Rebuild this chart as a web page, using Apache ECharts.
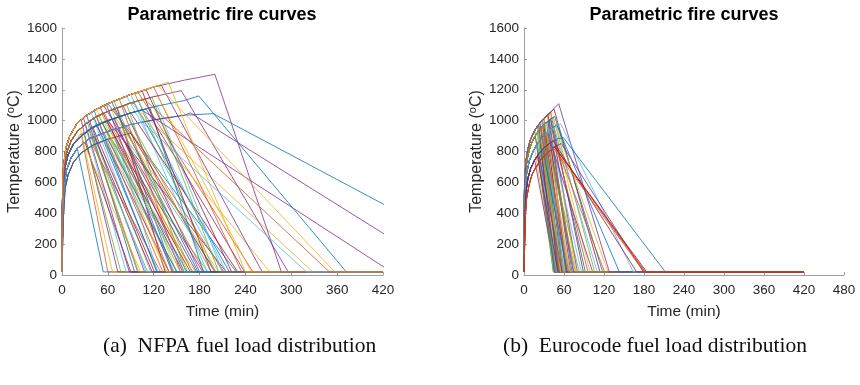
<!DOCTYPE html>
<html>
<head>
<meta charset="utf-8">
<script src="https://cdn.jsdelivr.net/npm/echarts@6.0.0/dist/echarts.min.js"></script>
<style>
  html, body { margin: 0; padding: 0; background: #fff; }
  #main { width: 860px; height: 385px; }
</style>
</head>
<body>
<div id="main"></div>
<script>
// ambient temperature and the time where every curve stops (min)
const ambient = 20;
const flatEnd = 420;

// x / y tick settings
const nfpaXMax = 420;
const euroXMax = 480;
const tempMax = 1600;

// heating branches [time, temp], fast -> slow
const nfpaHeating = [
  [[0,20],[0.5,450],[1,600],[2,700],[5,820],[10,900],[20,985],[30,1025],[45,1075],[60,1110],[90,1170],[120,1218],[160,1262],[200,1300]],
  [[0,20],[0.7,450],[1.5,600],[3,700],[6,790],[12,870],[20,930],[30,975],[45,1025],[60,1060],[90,1115],[120,1155],[160,1198],[200,1235]],
  [[0,20],[1,450],[2,600],[4,700],[8,780],[15,850],[25,900],[40,955],[60,1000],[90,1050],[120,1090],[160,1130],[200,1160]],
  [[0,20],[1.2,400],[3,580],[6,680],[12,760],[20,820],[35,880],[60,930],[90,975],[120,1005],[160,1035],[200,1055]],
  [[0,20],[1.5,350],[4,560],[8,650],[15,730],[25,790],[40,840],[60,880],[90,920],[120,950]]
];

// NFPA curves: [heating branch, peak time, peak temp, time back at ambient]
const nfpaCurves = [
  [3,22,830,54],[2,25,915,60],[1,24,950,66],[0,25,1005,73],[2,28,925,77],[1,30,975,84],[3,30,860,90],
  [0,32,1040,95],[2,35,945,99],[4,32,815,103],[1,36,1000,108],[3,38,895,112],[0,38,1055,116],[2,40,960,121],
  [1,42,1020,125],[4,40,840,129],[0,45,1075,136],[2,45,975,140],[1,48,1035,147],[3,50,915,151],[0,50,1085,158],
  [2,52,990,164],[1,55,1050,171],[4,55,870,175],[0,55,1095,184],[3,58,925,191],[1,60,1060,202],[2,62,1005,215],
  [0,62,1110,228],[3,65,940,140],[1,65,1070,150],[2,68,1015,160],[0,68,1125,170],[4,70,890,125],[1,72,1085,135],
  [2,75,1025,145],[0,75,1140,155],[3,78,955,165],[1,80,1095,180],[2,85,1040,195],[0,85,1155,210],[4,90,920,200],
  [1,95,1110,219],[0,100,1180,250],[2,100,1060,272],[0,28,1020,88],[1,33,990,100],[2,38,950,110],[3,42,900,118],
  [0,42,1065,124],[1,45,1030,132],[2,55,995,137],[0,58,1105,144],[1,52,1045,155],[3,55,920,160],[2,58,1000,168],
  [0,65,1120,178],[1,68,1075,186],[2,70,1020,205],[3,72,950,176],[1,85,1100,162],[0,92,1170,190],[2,92,1050,230],
  [4,60,880,150],[3,85,965,212],[1,90,1115,328],[2,110,1075,239],
  [0,95,1178,200],[1,100,1130,215],[0,110,1200,222],[2,115,1083,185],[0,120,1218,235],[1,125,1160,248],
  [0,130,1228,262],[1,118,1150,205],[2,125,1095,210],[0,105,1192,195]
];

// the long, individually visible NFPA curves
const nfpaLong = [
  [3,198,1045,587],[3,168,1050,501],[2,104,1070,431],[0,202,1300,287],[2,179,1160,372],
  [1,156,1194,296],[0,139,1250,240],[0,125,1230,357],[3,105,990,320],[1,108,1138,350]
];

const euroHeating = [
  [[0,20],[0.5,500],[1,620],[3,740],[6,820],[10,880],[16,935],[22,975],[30,1015],[40,1055],[52,1110]],
  [[0,20],[0.7,480],[1.5,600],[3,700],[6,780],[10,840],[16,895],[22,935],[30,975],[40,1010],[50,1040]],
  [[0,20],[1,450],[2,570],[4,660],[8,740],[14,805],[20,850],[28,895],[38,935],[50,968],[60,990]],
  [[0,20],[1.5,420],[3,540],[6,630],[10,690],[16,745],[22,785],[30,825],[40,858],[50,882],[60,900]],
  [[0,20],[2,380],[4,500],[8,590],[12,650],[18,700],[25,745],[35,790],[46,830],[60,860]]
];

const euroCurves = [
  [0,18,945,44],[1,18,880,45],[2,16,820,45],[3,18,750,47],[0,20,965,44],[1,22,935,45],[0,24,985,46],
  [2,20,850,46],[1,25,950,47],[0,26,995,48],[2,24,873,48],[1,28,965,49],[3,22,785,50],[0,28,1005,50],
  [1,30,975,51],[2,28,895,52],[0,30,1015,53],[1,32,982,54],[3,26,805,55],[2,30,903,56],[0,33,1027,57],
  [1,34,989,58],[2,32,911,60],[0,35,1035,62],[1,36,996,64],[3,30,825,66],[2,35,923,68],[0,36,1039,70],
  [1,38,1003,72],[2,38,935,75],[0,38,1047,78],[1,40,1010,80],[3,35,841,83],[2,40,940,86],[0,40,1055,89],
  [1,42,1016,92],[2,42,941,96],[0,42,1064,99],[3,40,858,103],[1,44,1022,106],[2,45,954,110],[0,45,1075,114],
  [1,46,1028,118],[3,45,870,121],[2,48,962,126],[0,22,975,46],[1,20,915,47],[2,22,860,49],[3,20,770,51],
  [0,24,990,52],[1,26,955,53],[2,26,882,55],[3,24,795,57],[1,24,945,59],[0,27,1002,61],[2,34,917,63],
  [3,28,815,65],[1,28,965,67],[0,31,1018,69],[2,36,925,74],[1,33,987,77]
];

const euroLong = [
  [0,52,1110,128],[2,49,973,143],[2,55,980,164],[4,56,852,179],[3,59,890,212],
  [3,44,868,169],[4,48,835,182],[4,47,832,181],[4,46,830,184],[4,44,824,180]
];

// MATLAB default colour order
const palette = ['#0072BD','#D95319','#EDB120','#7E2F8E','#77AC30','#4DBEEE','#A2142F'];
const nfpaLongColors = [0,3,3,3,0,3,2,2,5,1];
const euroLongColors = [3,0,5,3,0,6,6,1,6,1];

function curvePoints(heating, c) {
  const pts = heating[c[0]].filter(p => p[0] < c[1]).map(p => p.slice());
  pts.push([c[1], c[2]], [c[3], ambient]);
  if (c[3] < flatEnd) pts.push([flatEnd, ambient]);
  return pts;
}

function buildSeries(heating, curves, longCurves, longColors, axisIdx) {
  const out = [];
  curves.forEach((c, i) => out.push({
    type: 'line', xAxisIndex: axisIdx, yAxisIndex: axisIdx,
    data: curvePoints(heating, c), showSymbol: false, silent: true, clip: true,
    lineStyle: { width: 0.8, color: palette[i % 7] }
  }));
  longCurves.forEach((c, i) => out.push({
    type: 'line', xAxisIndex: axisIdx, yAxisIndex: axisIdx,
    data: curvePoints(heating, c), showSymbol: false, silent: true, clip: true,
    lineStyle: { width: 0.8, color: palette[longColors[i]] }
  }));
  return out;
}

const axisColor = '#a0a0a0';
const labelColor = '#262626';
const sansFont = '"Liberation Sans", Arial, sans-serif';

function xAxisFor(gridIdx, max) {
  return {
    type: 'value', gridIndex: gridIdx, min: 0, max: max, interval: 60,
    name: 'Time (min)', nameLocation: 'middle', nameGap: 29,
    nameTextStyle: { fontSize: 15.5, color: labelColor, fontFamily: sansFont },
    axisLine: { show: true, lineStyle: { color: axisColor, width: 1 } },
    axisTick: { show: true, inside: true, length: 3, lineStyle: { color: axisColor } },
    axisLabel: { fontSize: 13.5, color: labelColor, margin: 8, fontFamily: sansFont, formatter: v => String(v) },
    splitLine: { show: false }
  };
}

function yAxisFor(gridIdx) {
  return {
    type: 'value', gridIndex: gridIdx, min: 0, max: tempMax, interval: 200,
    name: '{a|Temperature (}{s|o}{a|C)}', nameLocation: 'middle', nameGap: 35, nameRotate: 90,
    nameTextStyle: {
      rich: {
        a: { fontSize: 16, color: labelColor, fontFamily: sansFont, lineHeight: 20 },
        s: { fontSize: 11, color: labelColor, fontFamily: sansFont, verticalAlign: 'top', lineHeight: 20 }
      }
    },
    axisLine: { show: true, lineStyle: { color: axisColor, width: 1 } },
    axisTick: { show: true, inside: true, length: 3, lineStyle: { color: axisColor } },
    axisLabel: { fontSize: 13.5, color: labelColor, margin: 5, fontFamily: sansFont, formatter: v => String(v) },
    splitLine: { show: false }
  };
}

const chart = echarts.init(document.getElementById('main'), null, { renderer: 'canvas' });

chart.setOption({
  animation: false,
  backgroundColor: '#fff',
  grid: [
    { left: 62, right: 477, top: 28, bottom: 110 },
    { left: 524, right: 16, top: 28, bottom: 110 }
  ],
  xAxis: [xAxisFor(0, nfpaXMax), xAxisFor(1, euroXMax)],
  yAxis: [yAxisFor(0), yAxisFor(1)],
  series: [
    ...buildSeries(nfpaHeating, nfpaCurves, nfpaLong, nfpaLongColors, 0),
    ...buildSeries(euroHeating, euroCurves, euroLong, euroLongColors, 1)
  ],
  graphic: [
    { type: 'text', x: 222, y: 15, style: { text: 'Parametric fire curves', align: 'center', verticalAlign: 'middle', font: 'bold 18px ' + sansFont, fill: '#000' } },
    { type: 'text', x: 684, y: 15, style: { text: 'Parametric fire curves', align: 'center', verticalAlign: 'middle', font: 'bold 18px ' + sansFont, fill: '#000' } },
    { type: 'text', x: 103, y: 346, style: { text: '(a)  NFPA fuel load distribution', align: 'left', verticalAlign: 'middle', font: '21.5px "Liberation Serif", "Times New Roman", serif', fill: '#111' } },
    { type: 'text', x: 503, y: 346, style: { text: '(b)  Eurocode fuel load distribution', align: 'left', verticalAlign: 'middle', font: '21.5px "Liberation Serif", "Times New Roman", serif', fill: '#111' } }
  ]
});
</script>
</body>
</html>
